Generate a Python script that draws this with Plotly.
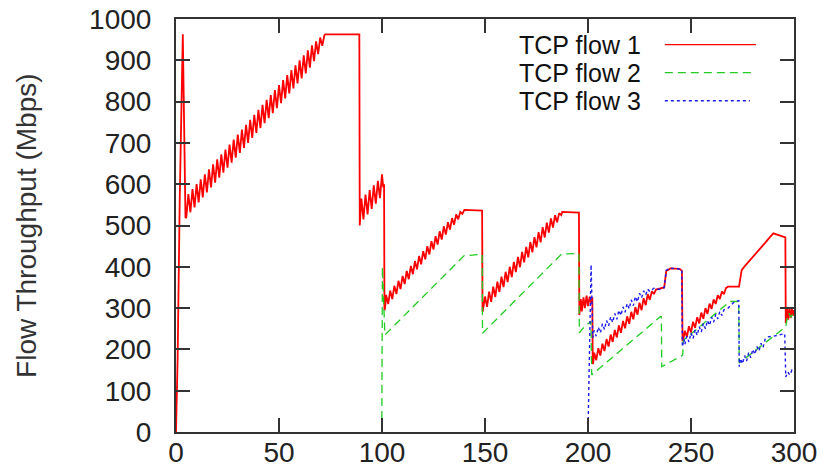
import plotly.graph_objects as go

# ---------------- data ----------------
# TCP flow 1 (red, solid)
x1 = [0, 0.8, 1.8, 2.6, 3.3, 3.9, 4.6,
      5, 6, 7, 8, 9, 10, 11, 12, 13, 14, 15, 16, 17, 18, 19, 20,
      21, 22, 23, 24, 25, 26, 27, 28, 29, 30, 31, 32, 33, 34, 35, 36,
      37, 38, 39, 40, 41, 42, 43, 44, 45, 46, 47, 48, 49, 50, 51, 52,
      53, 54, 55, 56, 57, 58, 59, 60, 61, 62, 63, 64, 65, 66, 67, 68,
      69, 70, 71, 72, 72.5,
      89, 89.2, 90, 91, 92, 93, 94, 95, 96, 97, 98, 99, 100, 100.6, 101.0, 101.2,
      101.5, 102, 103, 104, 105, 106, 107, 108, 109, 110, 111, 112, 113, 114,
      115, 116, 117, 118, 119, 120, 121, 122, 123, 124, 125, 126, 127, 128,
      129, 130, 131, 132, 133, 134, 135, 136, 137, 138, 139, 140, 148.6, 148.8,
      149, 150, 151, 152, 153, 154, 155, 156, 157, 158, 159, 160, 161, 162,
      163, 164, 165, 166, 167, 168, 169, 170, 171, 172, 173, 174, 175, 176,
      177, 178, 179, 180, 181, 182, 183, 184, 185, 186, 187, 187.5, 195.6, 195.8,
      196.5, 197, 197.8, 198.5, 199.3, 200, 200.8, 201.5, 202.1, 202.3,
      202.5, 203, 204, 205, 206, 207, 208, 209, 210, 211, 212, 213, 214, 215,
      216, 217, 218, 219, 220, 221, 222, 223, 224, 225, 226, 227, 228, 229,
      230, 231, 232, 233, 235.5, 237, 238, 240, 244.5, 245.6, 245.9,
      246.2, 247, 248, 249, 250, 251, 252, 253, 254, 255, 256, 257, 258, 259,
      260, 261, 262, 263, 264, 265, 266, 267, 268, 273.3, 274, 274.6, 276, 278,
      280, 282, 284, 286, 288, 290, 295.8, 296, 296.6, 297.2, 297.8, 298.4,
      299, 299.6, 300]
y1 = [0, 180, 560, 820, 963, 760, 518,
      520, 576, 532, 588, 544, 600, 556, 612, 568, 624, 580, 636, 592, 648, 604, 660,
      616, 672, 628, 684, 640, 696, 652, 708, 664, 720, 676, 732, 688, 744, 700, 756,
      712, 768, 724, 780, 736, 792, 748, 804, 760, 816, 772, 828, 784, 840, 796, 852,
      808, 864, 820, 876, 832, 888, 844, 900, 856, 912, 868, 924, 882, 936, 898, 946,
      915, 955, 935, 960, 963,
      963, 500, 565, 515, 575, 527, 586, 540, 597, 553, 608, 566, 624, 592, 600, 295,
      300, 332, 310, 342, 322, 354, 334, 366, 346, 378, 358, 390, 370, 402,
      382, 414, 394, 426, 406, 438, 418, 450, 430, 462, 442, 474, 454, 486,
      466, 498, 478, 508, 490, 518, 502, 527, 515, 533, 528, 538, 536, 291,
      295, 328, 303, 340, 315, 352, 327, 364, 339, 376, 351, 388, 363, 400,
      375, 412, 387, 424, 399, 436, 411, 448, 423, 460, 435, 472, 447, 484,
      459, 496, 471, 507, 483, 517, 495, 525, 508, 530, 525, 533, 531, 283,
      322, 292, 326, 300, 330, 305, 328, 312, 326, 166,
      166, 192, 174, 203, 185, 214, 196, 225, 207, 236, 218, 247, 229, 258,
      240, 269, 251, 280, 262, 291, 273, 302, 284, 313, 295, 324, 307, 334,
      320, 341, 334, 345, 347, 350, 390, 396, 395, 390, 222,
      222, 245, 230, 256, 241, 267, 252, 278, 263, 289, 274, 300, 286, 311,
      298, 321, 310, 331, 322, 340, 334, 349, 352, 352, 380, 392, 401, 412,
      424, 435, 447, 458, 470, 481, 471, 264, 300, 272, 302, 276,
      298, 282, 295]

# TCP flow 2 (green, dashed)
x2 = [99.9, 100.2, 101.4, 139.9, 148.6, 148.8, 187.2, 195.6, 195.8, 197, 199,
      201.4, 201.8, 235, 235.6, 235.8, 246, 246.3, 268.9, 273.2, 273.4, 296,
      296.5, 297.5, 298.5, 300]
y2 = [0, 400, 235, 427, 430, 239, 431, 432, 240, 248, 258,
      268, 138, 279, 279, 158, 186, 222, 316, 316, 167, 255,
      270, 288, 278, 290]

# TCP flow 3 (blue, dotted)
x3 = [200, 200.8, 201.5, 202, 202.3,
      203, 204, 205, 206, 207, 208, 209, 210, 211, 212, 213, 214, 215, 216,
      217, 218, 219, 220, 221, 222, 223, 224, 225, 226, 227, 228, 229, 230,
      232, 235, 237, 238, 240, 244, 245.5, 245.8,
      246.5, 247, 248, 249, 250, 251, 252, 253, 254, 255, 256, 257, 258, 259,
      260, 261, 262, 263, 264, 265, 266, 268, 271, 273.2, 273.4,
      274, 275, 276, 277, 278, 279, 280, 281, 282, 283, 284, 285, 286, 287,
      290, 295.5, 296, 297, 298, 299, 300]
y3 = [0, 220, 405, 300, 228,
      246, 232, 254, 240, 262, 248, 270, 257, 279, 265, 287, 273, 295, 282,
      303, 290, 311, 298, 320, 306, 328, 315, 336, 325, 342, 332, 346, 340,
      348, 345, 350, 392, 397, 396, 394, 206,
      225, 212, 232, 218, 240, 226, 248, 234, 255, 242, 263, 250, 270, 258,
      278, 266, 285, 274, 292, 282, 296, 300, 315, 318, 158,
      178, 165, 185, 172, 192, 180, 200, 188, 207, 196, 215, 205, 225, 230,
      232, 238, 133, 145, 138, 150, 145]

series_names = ["TCP flow 1", "TCP flow 2", "TCP flow 3"]
series_colors = ["#ff0000", "#22cc22", "#1a1aee"]
series_dash = ["solid", "8px,5px", "3px,3px"]
series_width = [1.8, 1.3, 1.4]

x_ticks = [0, 50, 100, 150, 200, 250, 300]
y_ticks = [0, 100, 200, 300, 400, 500, 600, 700, 800, 900, 1000]
y_title = "Flow Throughput (Mbps)"

FONT = "Liberation Sans, Arial, sans-serif"

fig = go.Figure()
for xs, ys, name, col, dash, w in zip([x1, x2, x3], [y1, y2, y3], series_names,
                                      series_colors, series_dash, series_width):
    fig.add_trace(go.Scatter(x=xs, y=ys, mode="lines", name=name,
                             line=dict(color=col, width=w, dash=dash),
                             showlegend=False))

axis_common = dict(showgrid=False, zeroline=False, showline=True,
                   linecolor="#333333", linewidth=2, mirror="ticks",
                   ticks="inside", ticklen=14, tickwidth=1.5, tickcolor="#333333",
                   automargin=False,
                   tickfont=dict(family=FONT, size=28, color="#222222"))

fig.update_xaxes(range=[0, 300], tickmode="array", tickvals=x_ticks,
                 ticktext=[str(v) for v in x_ticks], ticklabelstandoff=-6,
                 **axis_common)
fig.update_yaxes(range=[0, 1000], tickmode="array", tickvals=y_ticks,
                 ticktext=[str(v) for v in y_ticks], ticklabelstandoff=17,
                 **axis_common)

# y-axis title
fig.add_annotation(text=y_title, xref="paper", yref="paper",
                   x=-0.242, y=0.5, xanchor="center", yanchor="middle",
                   textangle=-90, showarrow=False,
                   font=dict(family=FONT, size=28, color="#333333"))

# gnuplot-style key: text right-aligned (one text block), line samples on the right
key_rows_y = [938, 870, 802]
key_text_x = 226.7
key_line_x0 = 237.3
key_line_x1 = [281.5, 281.5, 278.6]
key_text = "<br>".join('<span style="font-size:25px">%s</span>' % n for n in series_names)
fig.add_annotation(text=key_text, x=key_text_x, y=key_rows_y[1], xref="x", yref="y",
                   xanchor="right", yanchor="middle", align="right", showarrow=False,
                   font=dict(family=FONT, size=21.5, color="#111111"))
for col, dash, ky, kx1 in zip(series_colors, series_dash, key_rows_y, key_line_x1):
    fig.add_shape(type="line", x0=key_line_x0, x1=kx1, y0=ky, y1=ky,
                  xref="x", yref="y",
                  line=dict(color=col, width=1.3, dash=dash))

fig.update_layout(width=826, height=475,
                  margin=dict(l=176, r=32, t=19, b=43),
                  paper_bgcolor="white", plot_bgcolor="white",
                  showlegend=False)

fig.write_html("out.html")
